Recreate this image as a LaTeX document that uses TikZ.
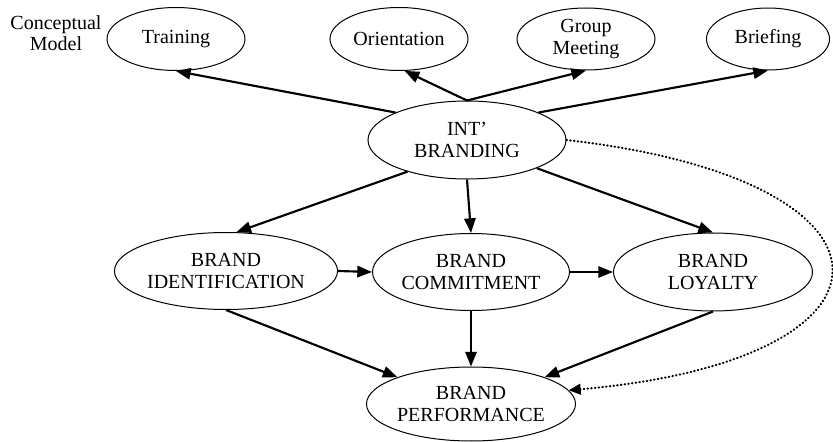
\documentclass[tikz,border=0pt]{standalone}
\usepackage{fontspec}
\setmainfont{Liberation Serif}
\usetikzlibrary{shapes.geometric,arrows.meta}
\tikzset{
  ell/.style={draw, ellipse, line width=0.75pt, inner sep=0pt, align=center,
    font=\fontsize{15}{16.8}\selectfont},
  arr/.style={line width=1.6pt, -{Triangle[length=11pt,width=8.5pt]}},
  dotarr/.style={line width=1.6pt, line cap=round, dash pattern=on 0.4pt off 2.4pt,
    -{Triangle[length=9pt,width=8pt,line cap=butt]}},
  lbl/.style={align=center, font=\fontsize{15}{16.2}\selectfont}
}
\begin{document}
\begin{tikzpicture}[x=0.75pt,y=-0.75pt]
\useasboundingbox (0,0) rectangle (833,442);
\node[lbl] (concept) at (56,33) {Conceptual\\Model};
\node[ell, minimum width=103.5pt, minimum height=47.25pt] (train) at (176,39) {Training};
\node[ell, minimum width=103.5pt, minimum height=47.25pt] (orient) at (399,39) {Orientation};
\node[ell, minimum width=103.5pt, minimum height=46.5pt] (group) at (586,39) {Group\\Meeting};
\node[ell, minimum width=92.25pt, minimum height=46.5pt] (brief) at (768,39) {Briefing};
\node[ell, minimum width=148.5pt, minimum height=58.5pt] (int) at (467,140) {INT’\\BRANDING};
\node[ell, minimum width=148.5pt, minimum height=57.75pt] (bi) at (226,271) {BRAND\\IDENTIFICATION};
\node[ell, minimum width=147.75pt, minimum height=57.75pt] (bc) at (471,272) {BRAND\\COMMITMENT};
\node[ell, minimum width=149.25pt, minimum height=58.5pt] (bl) at (713,272) {BRAND\\LOYALTY};
\node[ell, minimum width=147.75pt, minimum height=55.5pt] (bp) at (471,404) {BRAND\\PERFORMANCE};

\draw[arr] (int.159) -- (train.south);
\draw[arr] (int.north) -- (orient.-80);
\draw[arr] (int.north) -- (group.south);
\draw[arr] (int.21) -- (brief.south);
\draw[arr] (int.208) -- (bi.75);
\draw[arr] (int.south) -- (bc.north);
\draw[arr] (int.-22) -- (bl.north);
\draw[arr] (bi.east) -- (bc.west);
\draw[arr] (bc.east) -- (bl.west);
\draw[arr] (bi.south) -- (bp.160);
\draw[arr] (bc.south) -- (bp.north);
\draw[arr] (bl.south) -- (bp.20);
\draw[dotarr] (int.east) .. controls (919,180) and (919,360) .. (bp.8);
\end{tikzpicture}
\end{document}
